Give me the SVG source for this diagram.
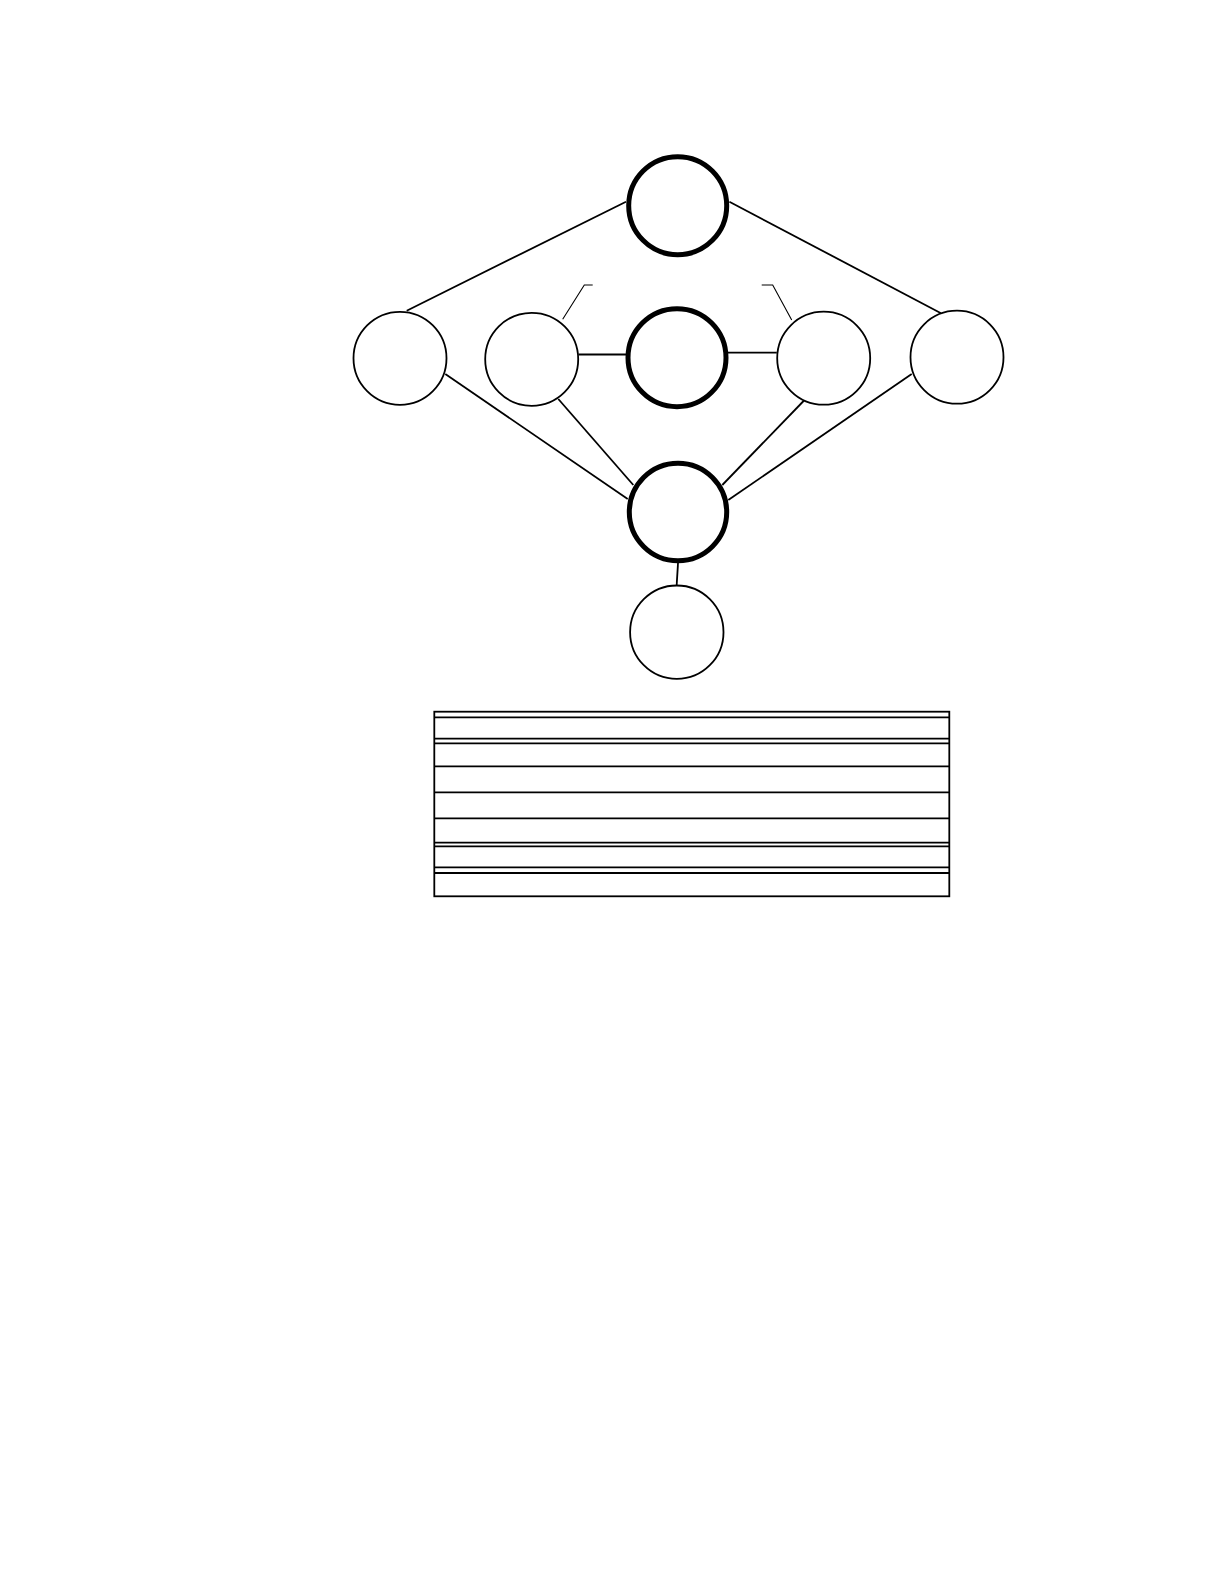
<svg xmlns="http://www.w3.org/2000/svg" width="1224" height="1584" viewBox="0 0 1224 1584">
<style>
.thin{fill:#fff;stroke:#000;stroke-width:1.8}
.thick{fill:#fff;stroke:#000;stroke-width:5}
.edge{fill:none;stroke:#000;stroke-width:1.8}
.leader{fill:none;stroke:#000;stroke-width:1.1}
.tbl{fill:none;stroke:#000;stroke-width:1.8}
</style>
<rect width="1224" height="1584" fill="#fff"/>
<g id="connectors">
<line class="edge" x1="406.7" y1="310.7" x2="626" y2="201.7"/>
<line class="edge" x1="729.4" y1="201.7" x2="941" y2="313.3"/>
<line class="edge" x1="578.5" y1="354.5" x2="626" y2="354.5"/>
<line class="edge" x1="728" y1="352.7" x2="776.8" y2="352.7"/>
<line class="edge" x1="445.3" y1="374" x2="627.7" y2="499"/>
<line class="edge" x1="558.3" y1="399" x2="633.3" y2="485"/>
<line class="edge" x1="805.5" y1="399" x2="722.3" y2="485"/>
<line class="edge" x1="911.7" y1="374" x2="728.3" y2="500"/>
<line class="edge" x1="678" y1="563" x2="676.7" y2="585"/>
<polyline class="leader" points="562.7,319.3 584.3,285 592.7,285"/>
<polyline class="leader" points="791.7,320 772.7,285 761.7,285"/>
</g>
<g id="node-top"><circle class="thick" cx="677.7" cy="205.7" r="49"/></g>
<g id="node-left"><circle class="thin" cx="400" cy="358.3" r="46.5"/></g>
<g id="node-midleft"><circle class="thin" cx="531.7" cy="359.3" r="46.5"/></g>
<g id="node-center"><circle class="thick" cx="677" cy="357.7" r="49"/></g>
<g id="node-midright"><circle class="thin" cx="823.7" cy="358.2" r="46.5"/></g>
<g id="node-right"><circle class="thin" cx="957" cy="357.2" r="46.5"/></g>
<g id="node-hub"><circle class="thick" cx="678" cy="512" r="48.7"/></g>
<g id="node-bottom"><circle class="thin" cx="676.8" cy="632.2" r="46.7"/></g>
<g id="table">
<rect class="tbl" x="434.3" y="711.7" width="515" height="184.6"/>
<line class="tbl" x1="434.3" y1="717.3" x2="949.3" y2="717.3"/>
<line class="tbl" x1="434.3" y1="738.7" x2="949.3" y2="738.7"/>
<line class="tbl" x1="434.3" y1="743.3" x2="949.3" y2="743.3"/>
<line class="tbl" x1="434.3" y1="766.3" x2="949.3" y2="766.3"/>
<line class="tbl" x1="434.3" y1="792.3" x2="949.3" y2="792.3"/>
<line class="tbl" x1="434.3" y1="818.3" x2="949.3" y2="818.3"/>
<line class="tbl" x1="434.3" y1="842.7" x2="949.3" y2="842.7"/>
<line class="tbl" x1="434.3" y1="846.3" x2="949.3" y2="846.3"/>
<line class="tbl" x1="434.3" y1="867.3" x2="949.3" y2="867.3"/>
<line class="tbl" x1="434.3" y1="873" x2="949.3" y2="873"/>
</g>
</svg>
